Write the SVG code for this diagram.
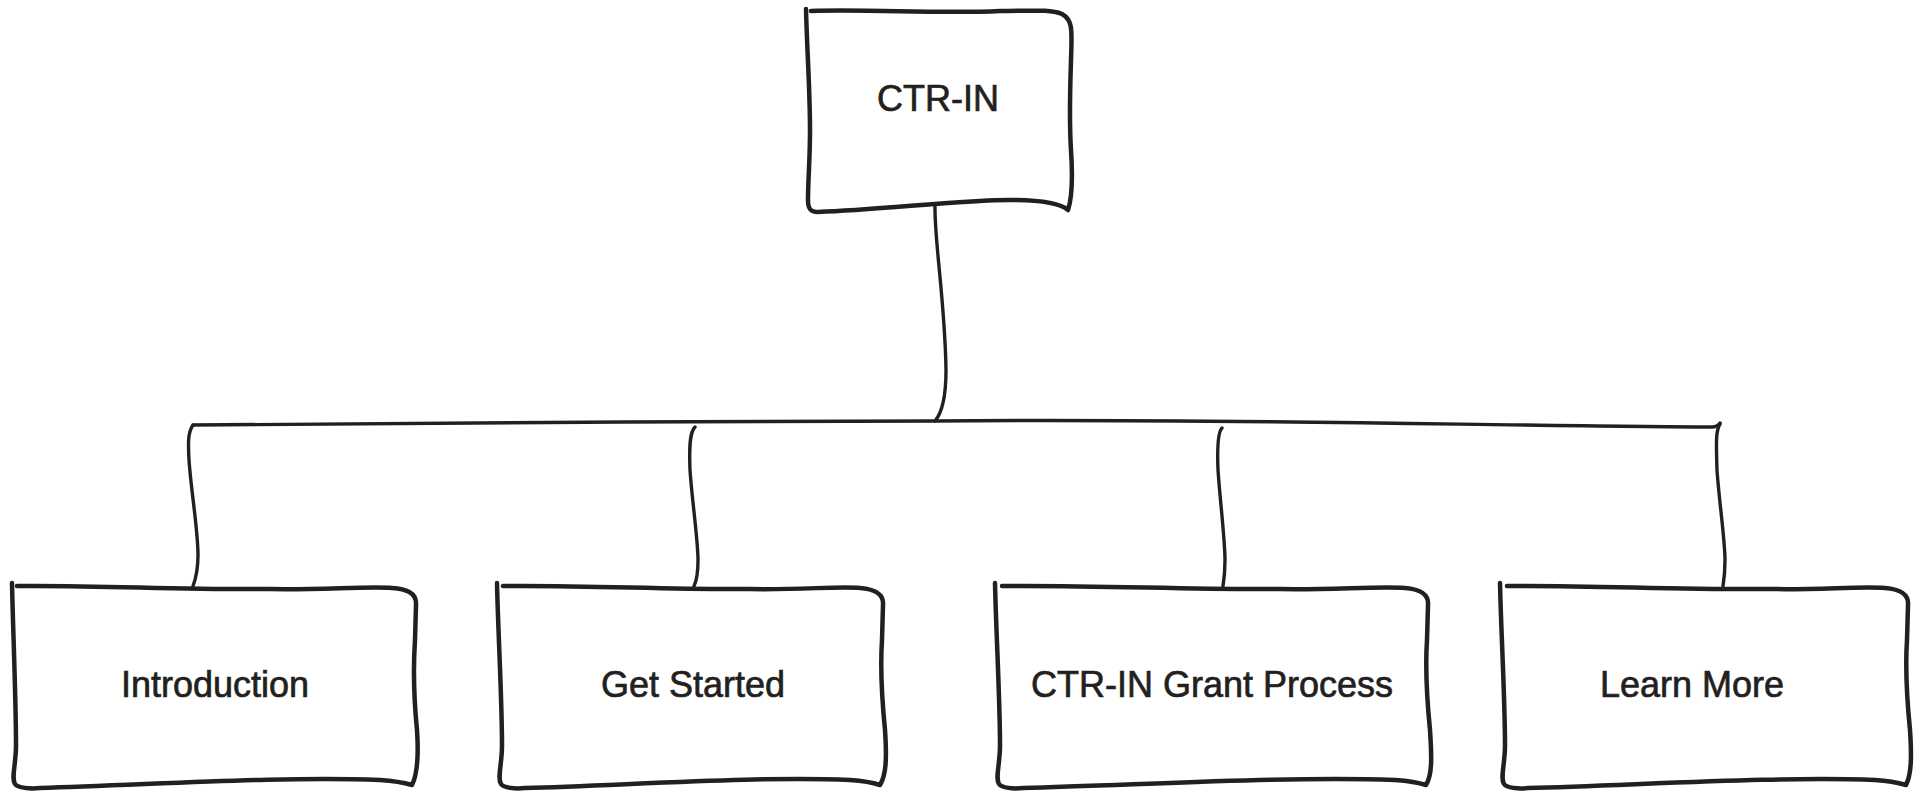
<svg xmlns="http://www.w3.org/2000/svg" width="1923" height="791" viewBox="0 0 1923 791">
<style>
.box{fill:none;stroke:#231f20;stroke-width:4.5;stroke-linecap:round;stroke-linejoin:round}
.conn{fill:none;stroke:#231f20;stroke-width:3.4;stroke-linecap:round;stroke-linejoin:round}
.lbl{font-family:"Liberation Sans",Arial,sans-serif;font-size:36px;fill:#231f20;stroke:#231f20;stroke-width:0.7;text-anchor:middle}
</style>
<rect width="1923" height="791" fill="#ffffff"/>
<g id="connectors">
<path class="conn" d="M935,204 C934,240 945,300 946,370 C946,400 941,414 935,421"/>
<path class="conn" d="M193,425 C400,422 700,422 935,421 C1200,418 1500,426 1712,427 C1716,427 1718,426 1720,423"/>
<path class="conn" d="M193,425 C188,432 188,442 189,460 C191,490 198,530 198,555 C198,570 196,578 193,586"/>
<path class="conn" d="M695,427 C690,432 689,445 690,470 C692,500 698,540 698,560 C698,572 697,580 694,586"/>
<path class="conn" d="M1222,428 C1218,432 1217,445 1218,470 C1220,500 1225,540 1225,560 C1225,572 1224,580 1223,586"/>
<path class="conn" d="M1720,424 C1716,430 1716,440 1717,470 C1719,500 1725,540 1725,560 C1725,572 1724,580 1723,586"/>
</g>
<g id="node-ctrin">
<path class="box" d="M806,9 C807,50 810,90 810,130 C810,160 808,180 808,200 C808,208 810,212 818,212 C880,210 960,200 1010,200 C1040,200 1060,203 1068,210 C1072,198 1073,180 1071,150 C1069,120 1070,90 1071,60 C1072,30 1073,20 1062,14 C1050,9 1030,11 1000,11 C940,14 870,9 811,11"/>
<text class="lbl" x="938" y="111">CTR-IN</text>
</g>
<g id="node-introduction">
<path class="box" d="M12,583 C13,630 16,700 16,745 C16,765 11,778 15,784 C18,788 30,789 40,788 C150,785 280,776 380,780 C395,781 405,783 412,785 C417,775 419,760 417,730 C414,700 413,670 415,640 L416,605 C417,592 405,589 392,588 C370,586 320,590 270,589 C180,590 100,585 17,586"/>
<text class="lbl" x="215" y="697">Introduction</text>
</g>
<g id="node-get-started">
<path class="box" d="M497,583 C498,630 502,700 502,745 C502,765 497,778 501,784 C504,788 515,789 525,788 C630,785 760,776 850,780 C865,781 874,783 880,785 C886,775 887,760 885,730 C882,700 880,670 882,640 L883,605 C884,592 872,589 860,588 C840,586 800,590 750,589 C670,590 590,585 503,586"/>
<text class="lbl" x="693" y="697">Get Started</text>
</g>
<g id="node-grant-process">
<path class="box" d="M995,583 C996,630 1000,700 1000,745 C1000,765 995,778 999,784 C1002,788 1013,789 1023,788 C1140,785 1290,776 1395,780 C1410,781 1420,783 1426,785 C1432,775 1432,760 1430,730 C1427,700 1425,670 1427,640 L1428,605 C1429,592 1417,589 1405,588 C1380,586 1330,590 1280,589 C1190,590 1100,585 1002,586"/>
<text class="lbl" x="1212" y="697">CTR-IN Grant Process</text>
</g>
<g id="node-learn-more">
<path class="box" d="M1500,583 C1501,630 1505,700 1505,745 C1505,765 1500,778 1504,784 C1507,788 1518,789 1528,788 C1640,785 1780,776 1875,780 C1890,781 1899,783 1906,785 C1911,775 1912,760 1910,730 C1907,700 1905,670 1907,640 L1908,605 C1909,592 1897,589 1885,588 C1860,586 1820,590 1770,589 C1680,590 1590,585 1507,586"/>
<text class="lbl" x="1692" y="697">Learn More</text>
</g>
</svg>
